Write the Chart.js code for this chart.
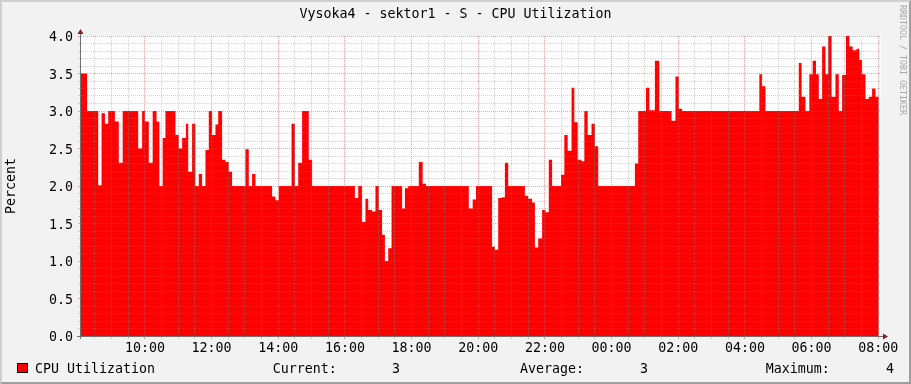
<!DOCTYPE html>
<html><head><meta charset="utf-8">
<script src="https://cdn.jsdelivr.net/npm/chart.js@4.4.1/dist/chart.umd.min.js"></script>
<style>
html,body{margin:0;padding:0;background:#f2f2f2;}
#wrap{position:relative;width:911px;height:384px;overflow:hidden;background:#f2f2f2;font-family:"DejaVu Sans Mono",monospace;font-size:13.3px;color:#000;}
#c{position:absolute;left:0;top:0;}
.t{position:absolute;white-space:pre;line-height:16px;}
#frame{position:absolute;left:0;top:0;width:911px;height:384px;box-sizing:border-box;border-style:solid;border-width:2px;border-color:#cfcfcf #9e9e9e #9e9e9e #cfcfcf;pointer-events:none;}
#swatch{position:absolute;left:17px;top:363px;width:11px;height:10px;box-sizing:border-box;border:1px solid #000;background:#ff0000;}
#wm{position:absolute;left:898px;top:5px;writing-mode:vertical-rl;font-size:8.3px;color:#a8a8a8;line-height:9px;white-space:pre;}
</style></head>
<body><div id="wrap">
<canvas id="c" width="911" height="384"></canvas>
<div class="t" style="left:0;width:911px;text-align:center;top:6px">Vysoka4 - sektor1 - S - CPU Utilization</div>
<div id="swatch"></div>
<div class="t" style="left:35px;top:360.5px">CPU Utilization</div>
<div class="t" style="left:272.7px;top:360.5px">Current:</div>
<div class="t" style="left:392px;top:360.5px">3</div>
<div class="t" style="left:520px;top:360.5px">Average:</div>
<div class="t" style="left:640px;top:360.5px">3</div>
<div class="t" style="left:765.7px;top:360.5px">Maximum:</div>
<div class="t" style="left:886px;top:360.5px">4</div>
<div id="wm">RRDTOOL / TOBI OETIKER</div>
<div id="frame"></div>
</div>
<script>
// segment start times (HH:MM, running from 08:05 to 08:01 next day) and values (Percent)
const times = ["08:05","08:16","08:36","08:42","08:48","08:54","09:06","09:13","09:20","09:48","09:55","10:00","10:07","10:14","10:21","10:26","10:32","10:37","10:55","11:01","11:07","11:14","11:18","11:25","11:31","11:37","11:43","11:49","11:55","12:01","12:07","12:12","12:19","12:25","12:31","12:37","13:01","13:07","13:13","13:19","13:49","13:55","14:01","14:24","14:30","14:36","14:43","14:55","15:01","16:18","16:24","16:31","16:37","16:42","16:49","16:55","17:01","17:07","17:12","17:18","17:24","17:43","17:48","17:54","18:13","18:20","18:26","19:43","19:50","19:56","20:25","20:30","20:36","20:43","20:48","20:54","21:24","21:30","21:37","21:42","21:48","21:55","22:01","22:07","22:13","22:29","22:35","22:41","22:48","22:53","22:59","23:06","23:11","23:17","23:24","23:30","23:36","00:42","00:48","01:02","01:08","01:18","01:26","01:48","01:55","02:01","02:07","04:26","04:31","04:37","05:37","05:42","05:49","05:56","06:02","06:08","06:13","06:19","06:25","06:30","06:36","06:43","06:49","06:55","07:02","07:08","07:14","07:21","07:26","07:31","07:37","07:43","07:49","07:55","08:01"];
const cpuValues = [3.5,3.0,2.01,2.97,2.83,3.0,2.86,2.31,3.0,2.5,3.0,2.86,2.31,3.0,2.86,2.0,2.64,3.0,2.68,2.5,2.64,2.83,2.19,2.83,2.0,2.16,2.0,2.48,3.0,2.68,2.82,3.0,2.35,2.32,2.19,2.0,2.49,2.0,2.16,2.0,1.86,1.81,2.0,2.83,2.0,2.31,3.0,2.35,2.0,1.84,2.0,1.52,1.83,1.68,1.66,2.0,1.68,1.35,1.0,1.17,2.0,1.7,1.97,2.0,2.32,2.03,2.0,1.7,1.82,2.0,1.19,1.15,1.84,1.85,2.31,2.0,1.87,1.83,1.78,1.18,1.3,1.68,1.65,2.35,2.0,2.15,2.68,2.47,3.31,2.85,2.35,2.33,3.0,2.68,2.83,2.53,2.0,2.3,3.0,3.31,3.01,3.67,3.0,2.87,3.46,3.03,3.0,3.49,3.33,3.0,3.64,3.19,3.0,3.49,3.67,3.49,3.16,3.86,3.49,4.0,3.19,3.49,3.0,3.48,4.0,3.86,3.81,3.83,3.68,3.49,3.16,3.19,3.3,3.19,3.19];
const xStart = "08:05", xEnd = "08:05";      // 24 hour window
const yTickLabels = ["0.0","0.5","1.0","1.5","2.0","2.5","3.0","3.5","4.0"];
const xTickLabels = ["10:00","12:00","14:00","16:00","18:00","20:00","22:00","00:00","02:00","04:00","06:00","08:00"];

function hm(s){const p=s.split(':').map(Number);return p[0]*60+p[1];}
let off=0, prev=-1;
const points = times.map((t,i)=>{let v=hm(t)+off; if(v<prev){off+=1440;v+=1440;} prev=v; return {x:v,y:cpuValues[i]};});
const xMin = hm(xStart), xMax = hm(xEnd)+1440;

const FONT = {family:'"DejaVu Sans Mono", monospace', size:13.3};
const minorCol = 'rgba(143,143,143,0.4)';
const majorCol = 'rgba(222,79,79,0.5)';
const isMajorX = v => v % 120 === 0;
const isMajorY = v => Math.round(v*10) % 5 === 0;

const bgPlugin = {id:'bg', beforeDraw(chart){const {ctx,chartArea:a}=chart;ctx.save();ctx.fillStyle='#ffffff';ctx.fillRect(a.left,a.top,a.right-a.left,a.bottom-a.top);ctx.restore();}};
const axesPlugin = {id:'axes', afterDraw(chart){
  const {ctx,chartArea:a}=chart; ctx.save();
  ctx.strokeStyle='#707070'; ctx.lineWidth=1; ctx.beginPath();
  ctx.moveTo(a.left-0.5,a.bottom+3); ctx.lineTo(a.left-0.5,a.top-2);
  ctx.moveTo(a.left-4,a.bottom+0.5); ctx.lineTo(a.right+2,a.bottom+0.5);
  ctx.stroke();
  ctx.fillStyle='#7f1f1f';
  ctx.beginPath(); ctx.moveTo(a.left-0.5,a.top-7); ctx.lineTo(a.left-3.5,a.top-2); ctx.lineTo(a.left+2.5,a.top-2); ctx.closePath(); ctx.fill();
  ctx.beginPath(); ctx.moveTo(a.right+7,a.bottom+0.5); ctx.lineTo(a.right+2,a.bottom-2.5); ctx.lineTo(a.right+2,a.bottom+3.5); ctx.closePath(); ctx.fill();
  ctx.restore();
}};

new Chart(document.getElementById('c'), {
  type:'line',
  data:{datasets:[{label:'CPU Utilization', data:points, stepped:true, fill:'origin', backgroundColor:'#ff0000', borderColor:'rgba(0,0,0,0)', borderWidth:0, pointRadius:0}]},
  options:{
    responsive:false, animation:false, devicePixelRatio:1,
    layout:{padding:{left:0,top:36,right:30,bottom:0}},
    plugins:{legend:{display:false},title:{display:false},tooltip:{enabled:false}},
    scales:{
      x:{type:'linear', min:xMin, max:xMax,
        afterBuildTicks:s=>{const t=[];for(let v=510;v<=1920;v+=30)t.push({value:v});s.ticks=t;},
        afterFit:s=>{s.height=48;},
        border:{display:false, dash:[1,1]},
        grid:{z:1, lineWidth:1, drawTicks:true, tickLength:3, color:c=>c.tick&&isMajorX(c.tick.value)?majorCol:minorCol, tickColor:c=>c.tick&&isMajorX(c.tick.value)?majorCol:minorCol},
        ticks:{autoSkip:false, maxRotation:0, minRotation:0, padding:1.5, color:'#000', font:FONT,
          callback:v=>isMajorX(v)?xTickLabels[(v-600)/120]:''}
      },
      y:{type:'linear', min:0, max:4,
        afterBuildTicks:s=>{const t=[];for(let i=0;i<=40;i++)t.push({value:i/10});s.ticks=t;},
        afterFit:s=>{s.width=81;},
        border:{display:false, dash:[1,1]},
        grid:{z:1, lineWidth:1, drawTicks:true, tickLength:3, color:c=>c.tick&&isMajorY(c.tick.value)?majorCol:minorCol, tickColor:c=>c.tick&&isMajorY(c.tick.value)?majorCol:minorCol},
        ticks:{autoSkip:false, padding:5, labelOffset:1.7, color:'#000', font:FONT,
          callback:v=>isMajorY(v)?yTickLabels[Math.round(v*2)]:''},
        title:{display:true, text:'Percent', color:'#000', font:FONT, padding:{top:3.5,bottom:0}}
      }
    }
  },
  plugins:[bgPlugin, axesPlugin]
});
</script>
</body></html>
